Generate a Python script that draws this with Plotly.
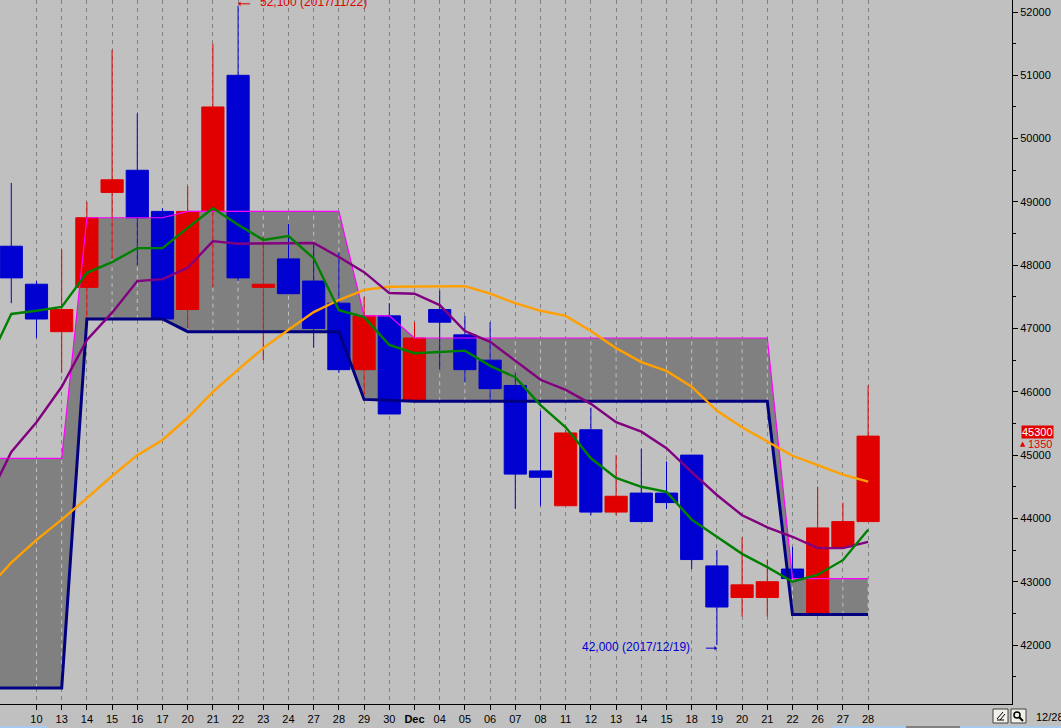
from plotly.graph_objs import Candlestick
from plotly.graph_objs import Figure
from plotly.graph_objs import Layout
from plotly.graph_objs import Scatter

# trading days, 0 is the day that is cut off at the left edge
days = list(range(35))
# one extra point left of the window so that the lines run off the edge
line_days = list(range(-1, 35))

tick_days = list(range(1, 35))
tick_labels = [
    "10", "13", "14", "15", "16", "17", "20", "21", "22", "23", "24", "27",
    "28", "29", "30", "<b>Dec</b>", "04", "05", "06", "07", "08", "11", "12",
    "13", "14", "15", "18", "19", "20", "21", "22", "26", "27", "28",
]

opens = [
    48300, 47700, 46950, 47650, 49150, 49500, 48850, 47300, 48850, 51000,
    47650, 48100, 47750, 47400, 46350, 47200, 45850, 47300, 46900, 46500,
    46100, 44750, 44200, 45400, 44100, 44400, 44400, 45000, 43250, 42750,
    42750, 43200, 42500, 43550, 43950,
]
highs = [
    49300, 47750, 48250, 49000, 51400, 50400, 48900, 49250, 51500, 52100,
    48450, 48650, 48350, 48200, 47500, 47400, 47100, 47600, 47200, 47100,
    46300, 45700, 45400, 45750, 45000, 45100, 44900, 45000, 43500, 43700,
    43350, 43550, 44500, 44250, 46100,
]
lows = [
    47400, 46850, 46300, 47150, 48100, 48000, 47150, 47000, 47650, 47750,
    46500, 47550, 46700, 46300, 45950, 45650, 45850, 46350, 46150, 45850,
    44150, 44200, 44200, 44050, 44050, 43950, 44150, 43200, 42000, 42450,
    42450, 43050, 42500, 43550, 43950,
]
closes = [
    47800, 47150, 47300, 48750, 49350, 48750, 47150, 48850, 50500, 47800,
    47700, 47550, 47000, 46350, 47200, 45650, 46850, 47100, 46350, 46050,
    44700, 44650, 45350, 44100, 44350, 43950, 44250, 43350, 42600, 42950,
    43000, 43050, 43850, 43950, 45300,
]

cloud_upper = [
    44950, 44950, 44950, 44950, 48750, 48750, 48750, 48750, 48850, 48850,
    48850, 48850, 48850, 48850, 48850, 47200, 47200, 46850, 46850, 46850,
    46850, 46850, 46850, 46850, 46850, 46850, 46850, 46850, 46850, 46850,
    46850, 46850, 43050, 43050, 43050, 43050,
]
cloud_lower = [
    41320, 41320, 41320, 41320, 47150, 47150, 47150, 47150, 46950, 46950,
    46950, 46950, 46950, 46950, 46950, 45880, 45860, 45850, 45850, 45850,
    45850, 45850, 45850, 45850, 45850, 45850, 45850, 45850, 45850, 45850,
    45850, 45850, 42480, 42480, 42480, 42480,
]

ma_green = [
    46390, 47230, 47280, 47340, 47880, 48050, 48270, 48270, 48590, 48900,
    48640, 48400, 48460, 48110, 47290, 47180, 46740, 46610, 46630, 46650,
    46410, 46230, 45790, 45440, 44950, 44640, 44500, 44420, 43980, 43710,
    43440, 43230, 43000, 43110, 43340, 43820,
]
ma_purple = [
    44240, 45050, 45520, 46080, 46820, 47250, 47750, 47780, 47960, 48380,
    48340, 48340, 48350, 48350, 48130, 47890, 47560, 47550, 47370, 46960,
    46790, 46490, 46190, 46030, 45810, 45520, 45370, 45110, 44730, 44370,
    44050, 43860, 43710, 43530, 43530, 43630,
]
ma_orange = [
    42870, 43300, 43660, 43980, 44320, 44670, 45000, 45240, 45590, 46000,
    46350, 46690, 46980, 47260, 47450, 47610, 47660, 47660, 47670, 47670,
    47550, 47400, 47280, 47200, 46960, 46690, 46470, 46330, 46080, 45700,
    45440, 45220, 44990, 44840, 44690, 44580,
]

BG = "#C0C0C0"
RED = "#E00000"
BLUE = "#0000D0"
FONT = "Liberation Sans, sans-serif"
PLOT_W = 1012
PLOT_H = 704
PRICE_RANGE = [41068, 52190]


def px(x):
    return x / PLOT_W


def py(y):
    return 1 - y / PLOT_H


def box(x0, y0, x1, y1, **kwargs):
    return dict(
        type="rect", xref="paper", yref="paper",
        x0=px(x0), x1=px(x1), y0=py(y0), y1=py(y1), **kwargs
    )


def seg(x0, y0, x1, y1, color="black", width=1):
    return dict(
        type="line", xref="paper", yref="paper",
        x0=px(x0), x1=px(x1), y0=py(y0), y1=py(y1),
        line={"color": color, "width": width},
    )


# the dashed day lines turn light where they cross the cloud
light_x = []
light_y = []
for d in tick_days:
    i = line_days.index(d)
    light_x += [d, d, None]
    light_y += [cloud_lower[i], cloud_upper[i], None]

# cloud stays on y, candles and lines go on the overlaid y2 to sit above it
data = [
    Scatter(x=line_days, y=cloud_lower, mode="lines",
            line={"width": 0}, hoverinfo="skip"),
    Scatter(x=line_days, y=cloud_upper, mode="lines", line={"width": 0},
            fill="tonexty", fillcolor="#808080", hoverinfo="skip"),
    Scatter(x=light_x, y=light_y, mode="lines", hoverinfo="skip",
            line={"color": BG, "width": 1, "dash": "4px,4px"}),
    Candlestick(
        x=days, open=opens, high=highs, low=lows, close=closes, yaxis="y2",
        increasing={"line": {"color": RED, "width": 1}, "fillcolor": RED},
        decreasing={"line": {"color": BLUE, "width": 1}, "fillcolor": BLUE},
    ),
    Scatter(x=line_days, y=cloud_upper, mode="lines", yaxis="y2",
            line={"color": "#FF00FF", "width": 1.2}),
    Scatter(x=line_days, y=cloud_lower, mode="lines", yaxis="y2",
            line={"color": "#000080", "width": 3}),
    Scatter(x=line_days, y=ma_orange, mode="lines", yaxis="y2",
            line={"color": "#FFA000", "width": 2.4}),
    Scatter(x=line_days, y=ma_purple, mode="lines", yaxis="y2",
            line={"color": "#800080", "width": 2.4}),
    Scatter(x=line_days, y=ma_green, mode="lines", yaxis="y2",
            line={"color": "#008000", "width": 2.4}),
]

annotations = [
    dict(x=9, y=52100, text="52,100 (2017/11/22)", showarrow=False,
         xanchor="left", xshift=20, yshift=4, font={"color": RED, "size": 12}),
    dict(x=9, y=52130, text=" ", showarrow=True, ax=15, ay=0, arrowhead=1,
         arrowwidth=1, arrowcolor=RED, arrowsize=0.8, standoff=0),
    dict(x=28, y=42000, text="42,000 (2017/12/19)", showarrow=False,
         xanchor="right", xshift=-25, yshift=-2,
         font={"color": BLUE, "size": 12}),
    dict(x=28, y=41950, text=" ", showarrow=True, ax=-14, ay=0, arrowhead=1,
         arrowwidth=1, arrowcolor=BLUE, arrowsize=0.8, standoff=0),
    dict(xref="paper", yref="paper", x=px(1054), y=py(432), text="45300",
         showarrow=False, xanchor="right", yanchor="middle", bgcolor=RED,
         borderpad=0, font={"color": "white", "size": 11}),
    dict(xref="paper", yref="paper", x=px(1054), y=py(444), text="1350",
         showarrow=False, xanchor="right", yanchor="middle",
         font={"color": RED, "size": 11}),
    dict(xref="paper", yref="paper", x=px(1023), y=py(444), text="▲",
         showarrow=False, xanchor="center", yanchor="middle",
         font={"color": RED, "size": 7, "family": "DejaVu Sans"}),
    dict(xref="paper", yref="paper", x=px(1034), y=py(717), text="12/28",
         showarrow=False, xanchor="left", yanchor="middle",
         font={"color": "black", "size": 11}),
]

shapes = [
    # edit and zoom buttons
    box(993, 709, 1008, 723, fillcolor="#F0F0E8", line={"color": "#404040", "width": 1}),
    box(1011, 709, 1026, 723, fillcolor="#F0F0E8", line={"color": "#404040", "width": 1}),
    seg(997, 719, 1003, 712),
    seg(1000, 720, 1005, 714),
    seg(997, 720, 1004, 720),
    dict(type="circle", xref="paper", yref="paper",
         x0=px(1014), x1=px(1020), y0=py(718), y1=py(712),
         line={"color": "black", "width": 1.5}),
    seg(1019, 717, 1023, 721, width=2),
    # strip of the window underneath
    box(0, 726, 48, 728, fillcolor="#A6CAF0", line={"width": 0}),
    box(832, 726, 906, 728, fillcolor="#A6CAF0", line={"width": 0}),
    box(906, 726, 960, 728, fillcolor="#808080", line={"width": 0}),
    box(960, 726, 1061, 728, fillcolor="#A6CAF0", line={"width": 0}),
]

layout = Layout(
    width=1061,
    height=728,
    margin={"l": 0, "r": 49, "t": 0, "b": 24, "pad": 0},
    paper_bgcolor=BG,
    plot_bgcolor=BG,
    showlegend=False,
    boxgap=0.12,
    boxgroupgap=0,
    font={"family": FONT, "size": 11, "color": "black"},
    xaxis={
        "range": [-0.448, 39.71],
        "rangeslider": {"visible": False},
        "tickmode": "array",
        "tickvals": tick_days,
        "ticktext": tick_labels,
        "tickangle": 0,
        "ticks": "outside",
        "ticklen": 5,
        "tickcolor": "black",
        "showline": True,
        "linecolor": "black",
        "linewidth": 1,
        "showgrid": True,
        "gridcolor": "#808080",
        "griddash": "4px,4px",
        "gridwidth": 1,
        "zeroline": False,
    },
    yaxis={
        "range": PRICE_RANGE,
        "side": "right",
        "tick0": 42000,
        "dtick": 1000,
        "tickformat": "d",
        "ticks": "outside",
        "ticklen": 5,
        "tickcolor": "black",
        "minor": {"dtick": 500, "ticks": "outside", "ticklen": 3, "tickcolor": "black"},
        "showline": True,
        "linecolor": "black",
        "linewidth": 1,
        "showgrid": False,
        "zeroline": False,
    },
    yaxis2={
        "range": PRICE_RANGE,
        "overlaying": "y",
        "side": "right",
        "visible": False,
    },
    annotations=annotations,
    shapes=shapes,
)

fig = Figure(data=data, layout=layout)
fig.write_html(
    "out.html",
    config={"displayModeBar": False},
    post_script="document.body.style.margin='0';document.documentElement.style.overflow='hidden';",
)
